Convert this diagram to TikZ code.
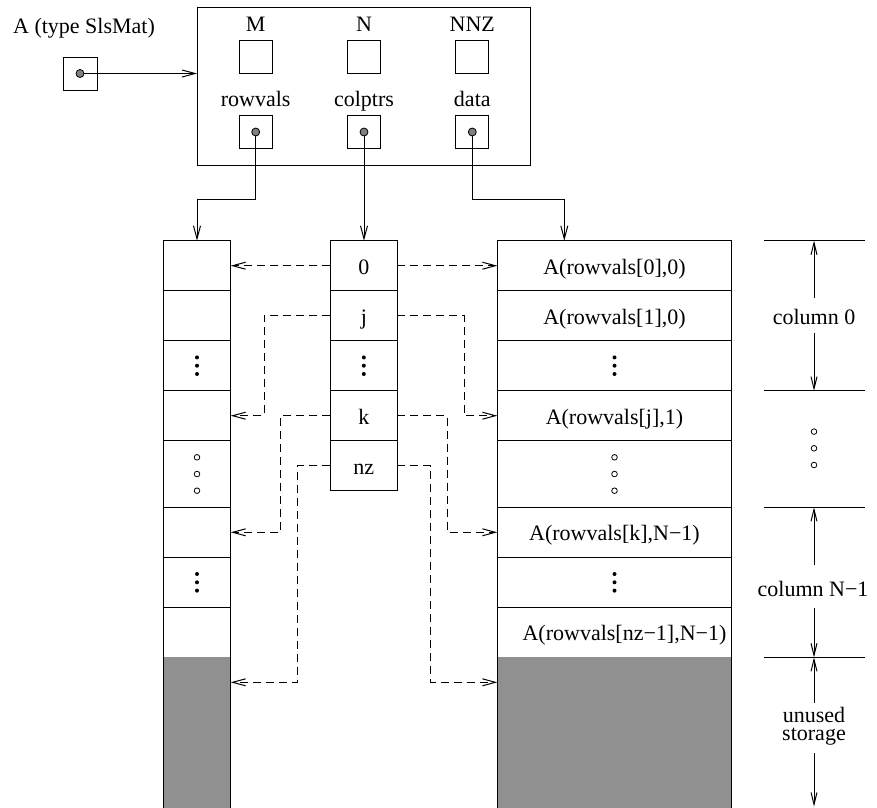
\documentclass[tikz,border=0pt]{standalone}
\usepackage{fontspec}
\setmainfont{Liberation Serif}
\usetikzlibrary{arrows.meta}
\definecolor{sparegray}{RGB}{144,144,144}
\definecolor{dotgray}{RGB}{128,128,128}
\begin{document}
\begin{tikzpicture}[x=1pt,y=-1pt,line width=1pt,
  every node/.style={font=\fontsize{22}{24}\selectfont,inner sep=0pt,outer sep=0pt},
  tip/.style={-{Straight Barb[length=13pt,width=7pt,line width=1pt]}},
  link/.style={tip,dash pattern=on 8pt off 5pt},
  field/.style={draw,minimum width=33pt,minimum height=33pt},
  cell/.style={draw,anchor=north west,text height=16.6pt,text depth=0pt},
  txt/.style={anchor=base},
  ptrdot/.style={draw,fill=dotgray,line width=0.8pt},
  celldots/.pic={\fill (0,-8.3) circle (2pt) (0,0) circle (2pt) (0,8.3) circle (2pt);},
  cellrings/.pic={\draw[line width=0.8pt] (0,-16.7) circle (2.8pt) (0,0) circle (2.8pt) (0,16.7) circle (2.8pt);}
]
\useasboundingbox (0,0) rectangle (877,807);

% ---- the matrix handle and its record ----
\node[txt] (Alabel) at (84,33.3) {A (type SlsMat)};
\node[draw,minimum width=34pt,minimum height=33pt] (Aptr) at (80,73.5) {};
\node[draw,anchor=north west,minimum width=333.7pt,minimum height=157.7pt] (rec) at (197,7.3) {};

\node[field] (fM)   at (255.7,57) {};
\node[field] (fN)   at (364,57)   {};
\node[field] (fNNZ) at (472.3,57) {};
\node[field] (prv)  at (255.7,132) {};
\node[field] (pcp)  at (364,132)   {};
\node[field] (pd)   at (472.3,132) {};

\node[txt] (lM)   at (255.7,31.7) {M};
\node[txt] (lN)   at (364,31.7)   {N};
\node[txt] (lNNZ) at (472.3,31.7) {NNZ};
\node[txt] (lrv)  at (255.7,106.7) {rowvals};
\node[txt] (lcp)  at (364,106.7)   {colptrs};
\node[txt] (ld)   at (472.3,106.7) {data};

% ---- the three arrays ----
\foreach \i/\t/\h in {0/240.7/50,1/290.7/50,2/340.7/50,3/390.7/50,
                      4/440.7/66.6,5/507.3/50,6/557.3/50,7/607.3/50}{
  \node[cell,minimum width=67.4pt,minimum height=\h pt] (rv\i) at (163.3,\t) {};
}
\node[cell,minimum width=234.4pt,minimum height=50pt]   (d0) at (497.3,240.7) {A(rowvals[0],0)};
\node[cell,minimum width=234.4pt,minimum height=50pt]   (d1) at (497.3,290.7) {A(rowvals[1],0)};
\node[cell,minimum width=234.4pt,minimum height=50pt]   (d2) at (497.3,340.7) {};
\node[cell,minimum width=234.4pt,minimum height=50pt]   (d3) at (497.3,390.7) {A(rowvals[j],1)};
\node[cell,minimum width=234.4pt,minimum height=66.6pt] (d4) at (497.3,440.7) {};
\node[cell,minimum width=234.4pt,minimum height=50pt]   (d5) at (497.3,507.3) {A(rowvals[k],N−1)};
\node[cell,minimum width=234.4pt,minimum height=50pt]   (d6) at (497.3,557.3) {};
\node[cell,minimum width=234.4pt,minimum height=50pt]   (d7) at (497.3,607.3) {};
\node[txt] (d7text) at (624.5,640.6) {A(rowvals[nz−1],N−1)};

\node[cell,minimum width=67pt,minimum height=50pt] (cp0) at (330.3,240.7) {0};
\node[cell,minimum width=67pt,minimum height=50pt] (cp1) at (330.3,290.7) {j};
\node[cell,minimum width=67pt,minimum height=50pt] (cp2) at (330.3,340.7) {};
\node[cell,minimum width=67pt,minimum height=50pt] (cp3) at (330.3,390.7) {k};
\node[cell,minimum width=67pt,minimum height=50pt] (cp4) at (330.3,440.7) {nz};

% unused storage at the end of rowvals and data
\fill[sparegray] (163.3,657.3) rectangle (230.7,808);
\fill[sparegray] (497.3,657.3) rectangle (731.7,808);
\draw (163.3,657.3) -- (163.3,808) (230.7,657.3) -- (230.7,808);
\draw (497.3,657.3) -- (497.3,808) (731.7,657.3) -- (731.7,808);
\coordinate (rvspare) at (230.7,682.3);
\coordinate (dspare)  at (497.3,682.3);

\pic at (rv2.center) {celldots};
\pic at (rv4.center) {cellrings};
\pic at (rv6.center) {celldots};
\pic at (cp2.center) {celldots};
\pic at (d2.center) {celldots};
\pic at (d4.center) {cellrings};
\pic at (d6.center) {celldots};

% ---- pointers out of the record ----
\coordinate (rvbend) at (197,199);
\coordinate (dbend)  at (564.3,199);
\draw[tip] (Aptr.center) -- (Aptr.center -| rec.west);
\draw[tip] (prv.center) |- (rvbend) -- (rv0.north);
\draw[tip] (pcp.center) -- (pcp.center |- cp0.north);
\draw[tip] (pd.center) |- (dbend) -- (dbend |- d0.north);
\foreach \p in {Aptr,prv,pcp,pd}{ \draw[ptrdot] (\p.center) circle (4pt); }

% ---- colptrs entries pointing into rowvals and data ----
\draw[link] (cp0.west) -- (rv0.east);
\draw[link] (cp0.east) -- (d0.west);
\draw[link] (cp1.west) -| ([xshift=33.3pt]rv3.east) -- (rv3.east);
\draw[link] (cp1.east) -| ([xshift=-33.3pt]d3.west) -- (d3.west);
\draw[link] (cp3.west) -| ([xshift=50pt]rv5.east) -- (rv5.east);
\draw[link] (cp3.east) -| ([xshift=-50pt]d5.west) -- (d5.west);
\draw[link] (cp4.west) -| ([xshift=66.6pt]rvspare) -- (rvspare);
\draw[link] (cp4.east) -| ([xshift=-66.6pt]dspare) -- (dspare);

% ---- extent markers on the right ----
\coordinate (m0) at (814,240.7);
\coordinate (m1) at (814,390.7);
\coordinate (m2) at (814,507.3);
\coordinate (m3) at (814,657.3);
\coordinate (m4) at (814,806.5);
\foreach \m in {m0,m1,m2,m3}{ \draw ([xshift=-50pt]\m) -- ([xshift=51pt]\m); }

\node[txt] (col0) at (814,324.3) {column 0};
\node[txt] (colN) at (813,596.7) {column N−1};
\node[align=center,font=\fontsize{22}{18}\selectfont] (spare) at (814,726) {unused\\storage};
\pic at (814,448.3) {cellrings};

\coordinate (c0a) at (814,298);   \coordinate (c0b) at (814,332.7);
\coordinate (cNa) at (814,565);   \coordinate (cNb) at (814,608);
\coordinate (sa)  at (814,703);   \coordinate (sb)  at (814,753);
\begin{scope}[-{Straight Barb[length=12pt,width=6pt,line width=1pt]}]
  \draw (c0a) -- (m0);  \draw (c0b) -- (m1);
  \draw (cNa) -- (m2);  \draw (cNb) -- (m3);
  \draw (sa) -- (m3);   \draw (sb) -- (m4);
\end{scope}
\end{tikzpicture}
\end{document}
